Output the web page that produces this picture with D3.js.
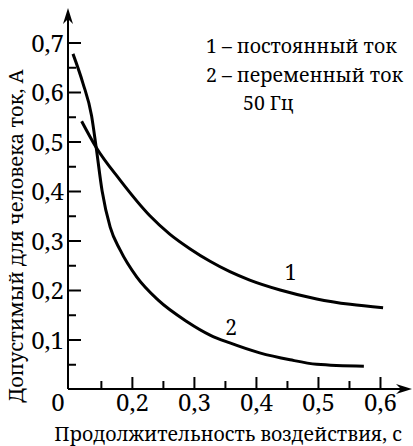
<!DOCTYPE html>
<html>
<head>
<meta charset="utf-8">
<script src="https://cdn.jsdelivr.net/npm/d3@7"></script>
<style>
    body { margin: 0; background: #fff; }
</style>
</head>
<body>
<div id="chart"></div>
<script>
// ток постоянный (1) и переменный 50 Гц (2)
const dcTime = [0.119, 0.142, 0.181, 0.229, 0.261, 0.294, 0.326, 0.358, 0.390, 0.439, 0.498, 0.552, 0.605]
const dcCurrent = [0.541, 0.489, 0.422, 0.350, 0.313, 0.283, 0.258, 0.237, 0.220, 0.200, 0.182, 0.171, 0.164]
const acTime = [0.105, 0.121, 0.135, 0.142, 0.152, 0.165, 0.181, 0.208, 0.242, 0.289, 0.326, 0.358, 0.406, 0.455, 0.498, 0.574]
const acCurrent = [0.677, 0.618, 0.552, 0.492, 0.400, 0.327, 0.281, 0.226, 0.18, 0.136, 0.109, 0.093, 0.073, 0.059, 0.05, 0.046]

const yMajor = [0.1, 0.2, 0.3, 0.4, 0.5, 0.6, 0.7]
const yMinor = [0.05, 0.15, 0.25, 0.35, 0.45, 0.55, 0.65]
const xMajor = [0.2, 0.3, 0.4, 0.5, 0.6]
const xMinor = [0.15, 0.25, 0.35, 0.45, 0.55]
const legendLines = ["1 – постоянный ток", "2 – переменный ток", "50 Гц"]

const width = 413
const height = 446
const xStart = 0.097
const serif = "'Noto Serif', 'DejaVu Serif', serif"

const svg = d3.select("#chart")
    .append("svg")
    .attr("width", width)
    .attr("height", height)
    .style("font-family", serif)

const xScale = d3.scaleLinear()
    .domain([xStart, 0.65])
    .range([68, 411])
const yScale = d3.scaleLinear()
    .domain([0, 0.7])
    .range([389, 42.5])

const fmt = d => d3.format(".1f")(d).replace(".", ",")

// оси
const yAxisMajor = svg.append("g")
    .attr("transform", "translate(" + xScale(xStart) + ",0)")
    .call(d3.axisLeft(yScale).tickValues(yMajor).tickFormat(fmt).tickSizeInner(-13).tickSizeOuter(0).tickPadding(4))
yAxisMajor.select(".domain").remove()
yAxisMajor.selectAll("line").attr("stroke-width", 2)
yAxisMajor.selectAll("text").style("font-size", "24px").style("font-family", serif).attr("dy", "0.36em")

const yAxisMinor = svg.append("g")
    .attr("transform", "translate(" + xScale(xStart) + ",0)")
    .call(d3.axisLeft(yScale).tickValues(yMinor).tickFormat("").tickSizeInner(-8).tickSizeOuter(0))
yAxisMinor.select(".domain").remove()
yAxisMinor.selectAll("line").attr("stroke-width", 2)

const xAxisMajor = svg.append("g")
    .attr("transform", "translate(0," + yScale(0) + ")")
    .call(d3.axisBottom(xScale).tickValues(xMajor).tickFormat(fmt).tickSizeInner(-12).tickSizeOuter(0).tickPadding(5))
xAxisMajor.select(".domain").remove()
xAxisMajor.selectAll("line").attr("stroke-width", 2)
xAxisMajor.selectAll("text").style("font-size", "24px").style("font-family", serif)

const xAxisMinor = svg.append("g")
    .attr("transform", "translate(0," + yScale(0) + ")")
    .call(d3.axisBottom(xScale).tickValues(xMinor).tickFormat("").tickSizeInner(-8).tickSizeOuter(0))
xAxisMinor.select(".domain").remove()
xAxisMinor.selectAll("line").attr("stroke-width", 2)

svg.append("text")
    .attr("x", xScale(xStart) - 10)
    .attr("y", yScale(0) + 5)
    .attr("dy", "0.71em")
    .attr("text-anchor", "middle")
    .style("font-size", "24px")
    .text("0")

// линии осей со стрелками
const x0 = xScale(xStart)
const y0 = yScale(0)
svg.append("line")
    .attr("x1", x0).attr("y1", y0)
    .attr("x2", x0).attr("y2", 14)
    .attr("stroke", "#000").attr("stroke-width", 2)
svg.append("path")
    .attr("d", "M" + x0 + ",8 L" + (x0 - 5) + ",24 L" + x0 + ",19 L" + (x0 + 5) + ",24 Z")
    .attr("fill", "#000")
svg.append("line")
    .attr("x1", x0).attr("y1", y0)
    .attr("x2", 406).attr("y2", y0)
    .attr("stroke", "#000").attr("stroke-width", 2)
svg.append("path")
    .attr("d", "M412," + y0 + " L396," + (y0 - 5) + " L401," + y0 + " L396," + (y0 + 5) + " Z")
    .attr("fill", "#000")

// кривые
const line = d3.line()
    .x(d => xScale(d[0]))
    .y(d => yScale(d[1]))
    .curve(d3.curveMonotoneX)

svg.append("path")
    .attr("d", line(d3.zip(dcTime, dcCurrent)))
    .attr("fill", "none")
    .attr("stroke", "#000")
    .attr("stroke-width", 3)
svg.append("path")
    .attr("d", line(d3.zip(acTime, acCurrent)))
    .attr("fill", "none")
    .attr("stroke", "#000")
    .attr("stroke-width", 3)

svg.append("text")
    .attr("x", xScale(0.456)).attr("y", yScale(0.236))
    .attr("dy", "0.36em").attr("text-anchor", "middle")
    .style("font-size", "21px")
    .text("1")
svg.append("text")
    .attr("x", xScale(0.36)).attr("y", yScale(0.125))
    .attr("dy", "0.36em").attr("text-anchor", "middle")
    .style("font-size", "21px")
    .text("2")

// легенда
svg.selectAll(".legend")
    .data(legendLines)
    .enter()
    .append("text")
    .attr("class", "legend")
    .attr("x", (d, i) => i === 2 ? 243 : 206)
    .attr("y", (d, i) => 53 + i * 28.5)
    .style("font-size", "19.5px")
    .text(d => d)

// подписи осей
svg.append("text")
    .attr("x", 228)
    .attr("y", 441)
    .attr("text-anchor", "middle")
    .style("font-size", "19.5px")
    .text("Продолжительность воздействия, с")
svg.append("text")
    .attr("transform", "translate(23,236) rotate(-90)")
    .attr("text-anchor", "middle")
    .style("font-size", "20px")
    .text("Допустимый для человека ток, А")
</script>
</body>
</html>
